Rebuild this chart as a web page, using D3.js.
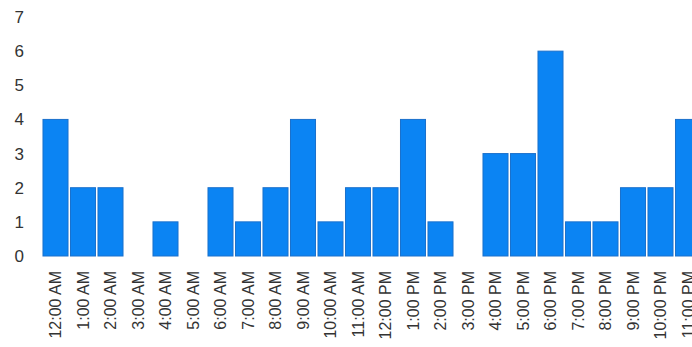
<!DOCTYPE html>
<html>
<head>
<meta charset="utf-8">
<script src="https://cdn.jsdelivr.net/npm/d3@7"></script>
<style>
  html, body { margin: 0; padding: 0; background: #fff; overflow: hidden; }
  svg { display: block; }
</style>
</head>
<body>
<script>
// Hourly counts, one bar per hour of the day
const hours = ["12:00 AM","1:00 AM","2:00 AM","3:00 AM","4:00 AM","5:00 AM","6:00 AM","7:00 AM","8:00 AM","9:00 AM","10:00 AM","11:00 AM",
               "12:00 PM","1:00 PM","2:00 PM","3:00 PM","4:00 PM","5:00 PM","6:00 PM","7:00 PM","8:00 PM","9:00 PM","10:00 PM","11:00 PM"];
const counts = [4,2,2,0,1,0,2,1,2,4,1,2,2,4,1,0,3,3,6,1,1,2,2,4];
const yTicks = [0,1,2,3,4,5,6,7];

const width = 720, height = 347;
const svg = d3.select("body").append("svg").attr("width", width).attr("height", height);

const x = d3.scaleBand().domain(hours).range([41.75, 701.75]).paddingInner(0.09).paddingOuter(0.045);
const y = d3.scaleLinear().domain([0, 7]).range([256, 17]);

// Bars
svg.append("g").selectAll("rect").data(counts).join("rect")
  .attr("x", (d, i) => x(hours[i]))
  .attr("y", d => y(d))
  .attr("width", x.bandwidth())
  .attr("height", d => y(0) - y(d))
  .attr("fill", "#0b84f3")
  .attr("stroke", "#1a70cc")
  .attr("stroke-width", 1);

// Y axis labels
const yAxis = d3.axisLeft(y).tickValues(yTicks).tickFormat(d3.format("d")).tickSize(0).tickPadding(0);
svg.append("g").attr("transform", "translate(24,0)").call(yAxis)
  .call(g => g.select(".domain").remove())
  .selectAll("text")
  .attr("font-family", "Liberation Sans, Arial, sans-serif")
  .attr("font-size", 17).attr("fill", "#333");

// X axis labels, rotated
const xAxis = d3.axisBottom(x).tickSize(0).tickPadding(0);
svg.append("g").attr("transform", "translate(0,271)").call(xAxis)
  .call(g => g.select(".domain").remove())
  .selectAll("text")
  .attr("font-family", "Liberation Sans, Arial, sans-serif")
  .attr("font-size", 16).attr("fill", "#333")
  .attr("text-anchor", "end")
  .attr("dy", "0.35em")
  .attr("transform", "rotate(-90)")
  .attr("x", 0).attr("y", 0);
</script>
</body>
</html>
